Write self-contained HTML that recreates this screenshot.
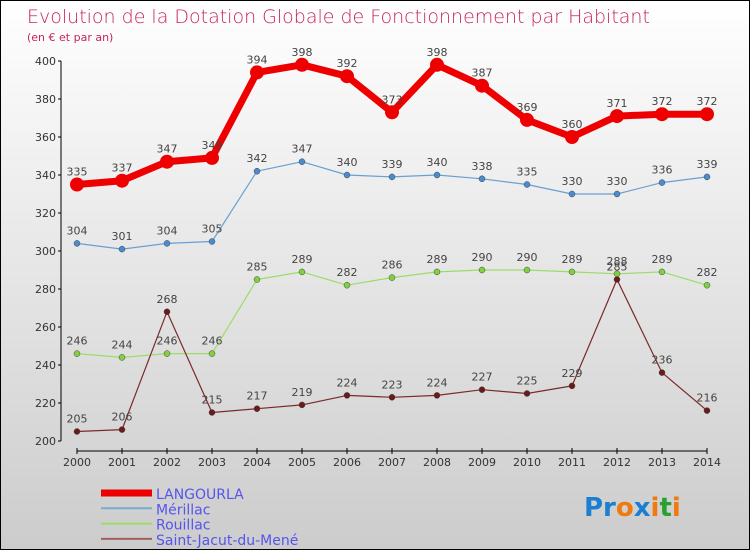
<!DOCTYPE html>
<html><head><meta charset="utf-8"><style>
body{margin:0}
#c{width:750px;height:550px;position:relative;background:linear-gradient(#fff,#ccc);box-sizing:border-box;border:1px solid #000;font-family:"DejaVu Sans","Liberation Sans",sans-serif;overflow:hidden}
svg{position:absolute;left:0;top:0}
</style></head><body>
<div id="c">
<svg id="s" width="750" height="550">
<text x="26" y="22" font-size="19" fill="#c8245a" style="font-weight:200">Evolution de la Dotation Globale de Fonctionnement par Habitant</text>
<text x="26" y="40" font-size="11" fill="#c8245a">(en € et par an)</text>
<g id="axes"></g><g id="series"></g><g id="legend"></g>
<text x="583" y="515" font-size="26" font-weight="bold"><tspan fill="#1a7fd0">Pr</tspan><tspan fill="#f07a10">o</tspan><tspan fill="#1a7fd0">x</tspan><tspan fill="#f07a10">i</tspan><tspan fill="#2aa030">t</tspan><tspan fill="#f07a10">i</tspan></text>
</svg></div>
<script>
const years=[2000,2001,2002,2003,2004,2005,2006,2007,2008,2009,2010,2011,2012,2013,2014];
const yTicks=[200,220,240,260,280,300,320,340,360,380,400];
const langourla=[335,337,347,349,394,398,392,373,398,387,369,360,371,372,372];
const merillac=[304,301,304,305,342,347,340,339,340,338,335,330,330,336,339];
const rouillac=[246,244,246,246,285,289,282,286,289,290,290,289,288,289,282];
const saintJacut=[205,206,268,215,217,219,224,223,224,227,225,229,285,236,216];
const names=["LANGOURLA","Mérillac","Rouillac","Saint-Jacut-du-Mené"];
const NS="http://www.w3.org/2000/svg";
const X=i=>76+i*(706-76)/14;
const Y=v=>440-(v-200)*1.9;
function mk(p,t,a){const e=document.createElementNS(NS,t);for(const k in a)e.setAttribute(k,a[k]);p.appendChild(e);return e;}
const ax=document.getElementById('axes');
let l=mk(ax,'line',{x1:60,y1:Y(400),x2:60,y2:440,stroke:'#000'});

l=mk(ax,'line',{x1:76,y1:450,x2:706,y2:450,stroke:'#000'});

yTicks.forEach(v=>{
 mk(ax,'line',{x1:57,y1:Y(v),x2:60,y2:Y(v),stroke:'#000'});
 const t=mk(ax,'text',{x:55,y:Y(v)+4,'font-size':11,fill:'#333','text-anchor':'end'});t.textContent=v;
 
});
years.forEach((y,i)=>{
 mk(ax,'line',{x1:X(i),y1:447,x2:X(i),y2:453,stroke:'#000'});
 const t=mk(ax,'text',{x:X(i),y:465,'font-size':11,fill:'#333','text-anchor':'middle'});t.textContent=y;
 
});
const sg=document.getElementById('series');
const defs=[[langourla,'#e00','#e00',7,7],[merillac,'#6aa0d0','#4a8cd0',1.2,3],[rouillac,'#9ddc6a','#80d040',1.2,3],[saintJacut,'#7a2a2a','#6a1a1a',1.2,3]];
defs.forEach((d,si)=>{
 const [vals,lc,mc,w,r]=d;
 const p=mk(sg,'polyline',{points:vals.map((v,i)=>X(i)+','+Y(v)).join(' '),fill:'none',stroke:lc,'stroke-width':w,'stroke-linejoin':'round'});
 
 
 vals.forEach((v,i)=>{
  const c=mk(sg,'circle',{cx:X(i),cy:Y(v),r:r,fill:mc,stroke:si?'#444':'none','stroke-width':0.5});
  
  
  const t=mk(sg,'text',{x:X(i),y:Y(v)-9,'font-size':11,fill:'#444','text-anchor':'middle'});t.textContent=v;
  
  
 });
});
const lg=document.getElementById('legend');
const lcol=['#e00','#7aaad0','#9ddc6a','#a06060'],lw=[7,2,2,2];
names.forEach((n,i)=>{
 const y=492+i*15.3;
 const ln=mk(lg,'line',{x1:100,y1:y,x2:151,y2:y,stroke:lcol[i],'stroke-width':lw[i]});
 
 
 const t=mk(lg,'text',{x:155,y:y+6,'font-size':14,fill:'#5555ee'});t.textContent=n;
 
 
});
</script>
</body></html>
